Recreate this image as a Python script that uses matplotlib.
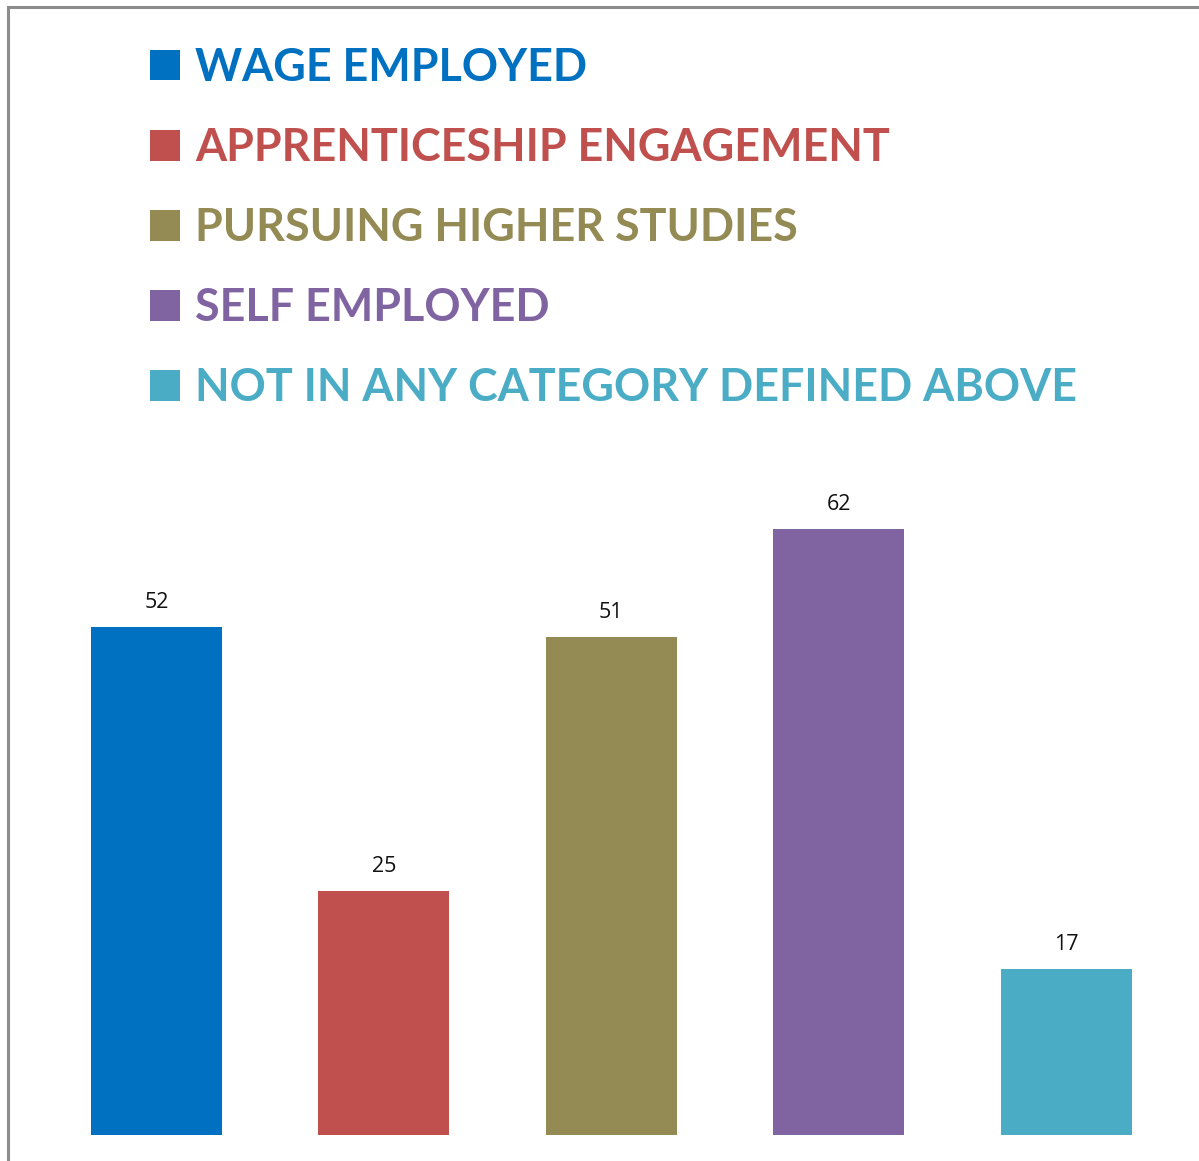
import matplotlib
matplotlib.use("Agg")
import matplotlib.pyplot as plt
from matplotlib.patches import Rectangle

categories = ["WAGE EMPLOYED", "APPRENTICESHIP ENGAGEMENT", "PURSUING HIGHER STUDIES",
              "SELF EMPLOYED", "NOT IN ANY CATEGORY DEFINED ABOVE"]
values = [52, 25, 51, 62, 17]
colors = ["#0070C0", "#C0504D", "#948A54", "#8064A2", "#4BACC6"]

W, H = 1199, 1161
fig = plt.figure(figsize=(W / 100, H / 100), dpi=100)

# frame: only top and left edges are visible in the crop
fig.patches.append(Rectangle((8 / W, -0.5), 2, (H - 7) / H + 0.5, transform=fig.transFigure,
                             fill=False, edgecolor="#8c8c8c", linewidth=2.2))

ax = fig.add_axes([42.75 / W, 26 / H, (1180 - 42.75) / W, (1135 - 451) / H])
x = range(len(values))
bars = ax.bar(x, values, width=0.576, color=colors)
for xi, v in zip(x, values):
    ax.annotate(str(v), (xi, v), xytext=(0, 10), textcoords="offset points",
                ha="center", va="bottom", fontsize=15.5, family="Open Sans", color="#111111")
ax.set_xlim(-0.5, len(values) - 0.5)
ax.set_ylim(0, 70)
ax.axis("off")

leg = fig.legend(bars, categories, loc="upper left", bbox_to_anchor=(132 / W, 1 - 29 / H),
                 frameon=False, handlelength=0.67, handleheight=0.67, handletextpad=0.33,
                 labelspacing=0.85, borderaxespad=0,
                 prop={"family": "Lato", "weight": "bold", "size": 32.3})
for txt, c in zip(leg.get_texts(), colors):
    txt.set_color(c)

fig.savefig("out.png", dpi=100)
